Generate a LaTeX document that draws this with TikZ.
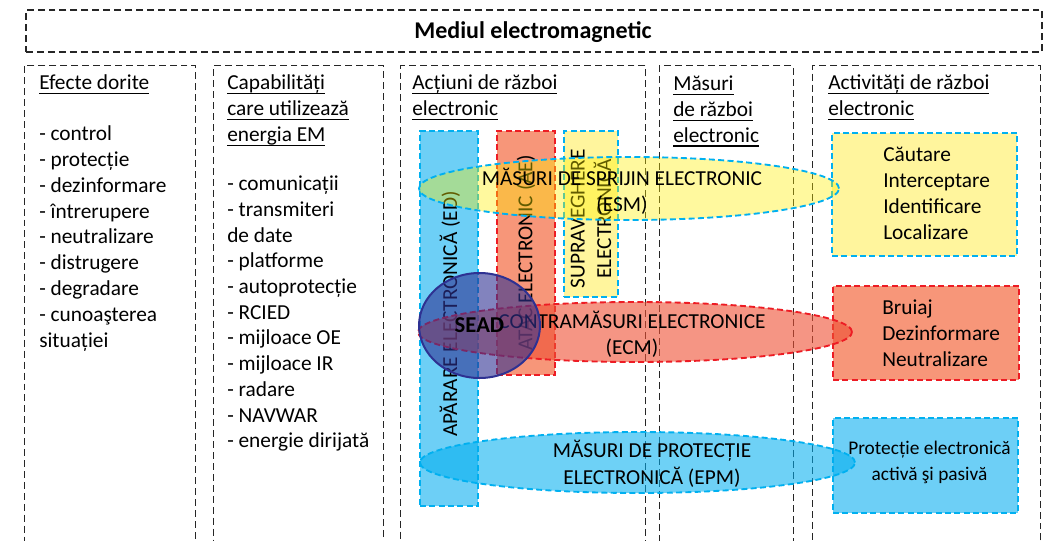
\documentclass[tikz,border=0pt]{standalone}
\usepackage{fontspec}
\setmainfont{Carlito}
\usetikzlibrary{shapes.geometric}

\definecolor{cyanline}{RGB}{0,176,240}
\definecolor{cyanfill}{RGB}{109,207,246}
\definecolor{redline}{RGB}{237,28,36}
\definecolor{salmonfill}{RGB}{247,150,121}
\definecolor{lemonfill}{RGB}{255,245,157}
\definecolor{esmfill}{RGB}{255,240,0}
\definecolor{ecmfill}{RGB}{238,78,50}
\definecolor{epmfill}{RGB}{0,174,239}
\definecolor{seadfill}{RGB}{46,49,146}
\definecolor{frameline}{RGB}{38,38,38}

% underline at a fixed depth, as in the headers
\newcommand{\ulx}[1]{\setbox0\hbox{#1}\rlap{\rule[-3.3pt]{\wd0}{0.9pt}}\box0}

\tikzset{
  txt/.style={inner sep=0pt, font=\fontsize{16}{19.8}\selectfont},
  item/.style={txt, anchor=base west},
  sized/.style 2 args={minimum width=#1*0.75pt, minimum height=#2*0.75pt, inner sep=0pt},
  colline/.style={draw=frameline, line width=1.05pt, dash pattern=on 5.2pt off 3pt},
  bluedash/.style={draw=cyanline, line width=1.4pt, dash pattern=on 4.5pt off 2.5pt},
  reddash/.style={draw=redline, line width=1.4pt, dash pattern=on 4.5pt off 2.5pt}
}

\begin{document}
\begin{tikzpicture}[x=0.75pt, y=-0.75pt]

	\useasboundingbox (0,0) rectangle (1050,540);
	\clip (0,0) rectangle (1050,540);

	% environment
	\node [colline, sized={1016}{42}] (env) at (534,31) {};
	\node [txt, anchor=base, font=\bfseries\fontsize{18}{22}\selectfont] (title) at (533,38) {Mediul electromagnetic};

	% columns
	\node [colline, sized={171.5}{520}, anchor=north west] (col1) at (23.5,65) {};
	\node [colline, sized={170}{520}, anchor=north west] (col2) at (213,65) {};
	\node [colline, sized={245}{520}, anchor=north west] (col3) at (400,65) {};
	\node [colline, sized={134}{520}, anchor=north west] (col4) at (658.5,65) {};
	\node [colline, sized={228}{520}, anchor=north west] (col5) at (811.5,65) {};

	% headers
	\node [item] (ef1) at (39,89.5) {\ulx{Efecte dorite}};
	\foreach \t [count=\i] in {Capabilități, care utilizează, energia EM}
		\node [item] (cap\i) at (227,{89.5+26*(\i-1)}) {\ulx{\t}};
	\foreach \t [count=\i] in {Acțiuni de război, electronic}
		\node [item] (act\i) at (412,{89.5+26*(\i-1)}) {\ulx{\t}};
	\foreach \t [count=\i] in {Măsuri, de război, electronic}
		\node [item] (mas\i) at (673,{90.5+25.8*(\i-1)}) {\ulx{\t}};
	\foreach \t [count=\i] in {Activități de război, electronic}
		\node [item] (acv\i) at (828,{89.5+26*(\i-1)}) {\ulx{\t}};

	% lists
	\foreach \t [count=\i] in {- control, - protecție, - dezinformare, - întrerupere, - neutralizare, - distrugere, - degradare, - cunoaşterea, situației}
		\node [item] (efl\i) at (39,{140.5+25.85*(\i-1)}) {\t};
	\foreach \t [count=\i] in {- comunicații, - transmiteri, de date, - platforme, - autoprotecție, - RCIED, - mijloace OE, - mijloace IR, - radare, - NAVWAR, - energie dirijată}
		\node [item] (capl\i) at (227,{190.7+25.7*(\i-1)}) {\t};

	% bars
	\node [bluedash, fill=cyanfill, sized={58}{375}] (ed) at (449,318.5) {};
	\node [txt, rotate=90] (edt) at (450,314) {APĂRARE ELECTRONICĂ (ED)};
	\node [reddash, fill=salmonfill, sized={58}{244}] (ae) at (526,253) {};
	\node [txt, rotate=90] (aet) at (ae) {ATAC ELECTRONIC (AE)};
	\node [bluedash, fill=lemonfill, sized={54}{166}] (se) at (591,214) {};
	\node [txt, rotate=90, align=center] (set) at (591,219) {SUPRAVEGHERE\\ELECTRONICĂ};

	% activities
	\node [bluedash, fill=lemonfill, sized={185}{123}] (act) at (924.5,194.5) {};
	\foreach \t [count=\i] in {Căutare, Interceptare, Identificare, Localizare}
		\node [item] (actl\i) at (883,{161.7+26*(\i-1)}) {\t};
	\node [reddash, fill=salmonfill, sized={186}{94}] (cm) at (926,333) {};
	\foreach \t [count=\i] in {Bruiaj, Dezinformare, Neutralizare}
		\node [item] (cml\i) at (882,{314.3+26.2*(\i-1)}) {\t};
	\node [bluedash, fill=cyanfill, sized={185}{95}] (pe) at (925.5,465.5) {};
	\node [txt, anchor=base, font=\fontsize{14.5}{19}\selectfont] (pel1) at (929.5,454) {Protecție electronică};
	\node [txt, anchor=base, font=\fontsize{14.5}{19}\selectfont] (pel2) at (929.5,480) {activă şi pasivă};

	% measures
	\node [ellipse, bluedash, fill=esmfill, fill opacity=0.38, sized={420}{63}] (esm) at (629,188.5) {};
	\node [ellipse, reddash, fill=ecmfill, fill opacity=0.6, sized={434}{60}] (ecm) at (635,332) {};
	\node [ellipse, bluedash, fill=epmfill, fill opacity=0.57, sized={435}{61}] (epm) at (637.5,462.5) {};

	\node [txt, anchor=base] (esm1) at (622,185) {MĂSURI DE SPRIJIN ELECTRONIC};
	\node [txt, anchor=base] (esm2) at (622,211.5) {(ESM)};
	\node [txt, anchor=base] (ecm1) at (632,328) {CONTRAMĂSURI ELECTRONICE};
	\node [txt, anchor=base] (ecm2) at (632,354) {(ECM)};
	\node [txt, anchor=base] (epm1) at (652,457.5) {MĂSURI DE PROTECȚIE};
	\node [txt, anchor=base] (epm2) at (652,484.5) {ELECTRONICĂ (EPM)};

	% SEAD
	\node [ellipse, draw=seadfill, line width=1.5pt, fill=seadfill, fill opacity=0.6, text opacity=1, sized={121}{105}, font=\bfseries\fontsize{17}{20}\selectfont] (sead) at (479.5,325.5) {SEAD};

\end{tikzpicture}
\end{document}
